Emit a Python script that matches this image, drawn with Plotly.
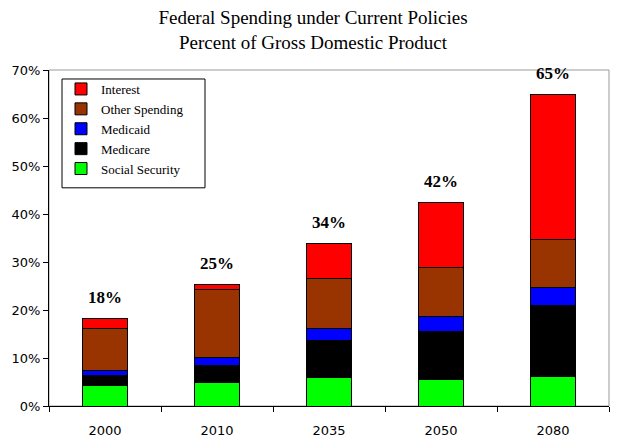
import plotly.graph_objects as go

years = ["2000", "2010", "2035", "2050", "2080"]
social_security = [4.2, 5.0, 6.0, 5.6, 6.2]
medicare = [2.1, 3.4, 7.6, 10.0, 14.8]
medicaid = [1.2, 1.8, 2.6, 3.1, 3.6]
other_spending = [8.7, 14.0, 10.4, 10.1, 10.0]
interest = [2.1, 1.2, 7.3, 13.5, 30.2]
total_labels = ["18%", "25%", "34%", "42%", "65%"]

series = [
    ("Social Security", social_security, "#00FF00"),
    ("Medicare", medicare, "#000000"),
    ("Medicaid", medicaid, "#0000FF"),
    ("Other Spending", other_spending, "#993300"),
    ("Interest", interest, "#FF0000"),
]

fig = go.Figure()
for name, vals, col in series:
    fig.add_trace(go.Bar(
        x=years, y=vals, name=name,
        marker=dict(color=col, line=dict(color="black", width=1)),
        width=0.4,
    ))

totals = [sum(v) for v in zip(*[s[1] for s in series])]
for i, (tot, lab) in enumerate(zip(totals, total_labels)):
    fig.add_annotation(
        x=i, y=tot, text="<b>" + lab + "</b>", showarrow=False,
        yanchor="middle", yshift=21,
        font=dict(family="Liberation Serif", size=17, color="black"),
    )

PW, PH = 560, 336.5
# legend frame
fig.add_shape(type="rect", xref="paper", yref="paper",
              x0=13/PW, x1=156/PW, y0=1-118/PH, y1=1-9/PH,
              line=dict(color="black", width=1), fillcolor="white", layer="below")
# plot area border (gray)
fig.add_shape(type="rect", xref="paper", yref="paper",
              x0=0, x1=1, y0=0, y1=1,
              line=dict(color="#999999", width=1), layer="below")

fig.update_layout(
    width=613, height=436,
    barmode="stack",
    paper_bgcolor="white", plot_bgcolor="white",
    margin=dict(l=41, r=12, t=62, b=37.5, autoexpand=False),
    title=dict(
        text="Federal Spending under Current Policies<br>Percent of Gross Domestic Product",
        x=305/613, xref="container", xanchor="center",
        y=1-16/436, yref="container", yanchor="top",
        font=dict(family="Liberation Serif", size=19, color="black"),
    ),
    showlegend=True,
    legend=dict(
        traceorder="reversed",
        x=12/PW, y=1-4/PH, xanchor="left", yanchor="top",
        bgcolor="rgba(0,0,0,0)", borderwidth=0,
        font=dict(family="Liberation Serif", size=13, color="black"),
        tracegroupgap=0,
    ),
    bargap=0.6,
)
fig.update_xaxes(
    type="category", showline=True, linecolor="black", linewidth=1,
    ticks="outside", ticklen=5, tickcolor="black", tickson="boundaries",
    tickfont=dict(family="DejaVu Sans", size=13, color="black"),
    ticklabelstandoff=12,
    showgrid=False, automargin=False,
)
fig.update_yaxes(
    range=[0, 70], dtick=10, ticksuffix="%",
    showline=True, linecolor="black", linewidth=1,
    ticks="outside", ticklen=5, tickcolor="black",
    tickfont=dict(family="DejaVu Sans", size=13, color="black"),
    showgrid=False, zeroline=False, automargin=False,
)

fig.write_html("out.html")
